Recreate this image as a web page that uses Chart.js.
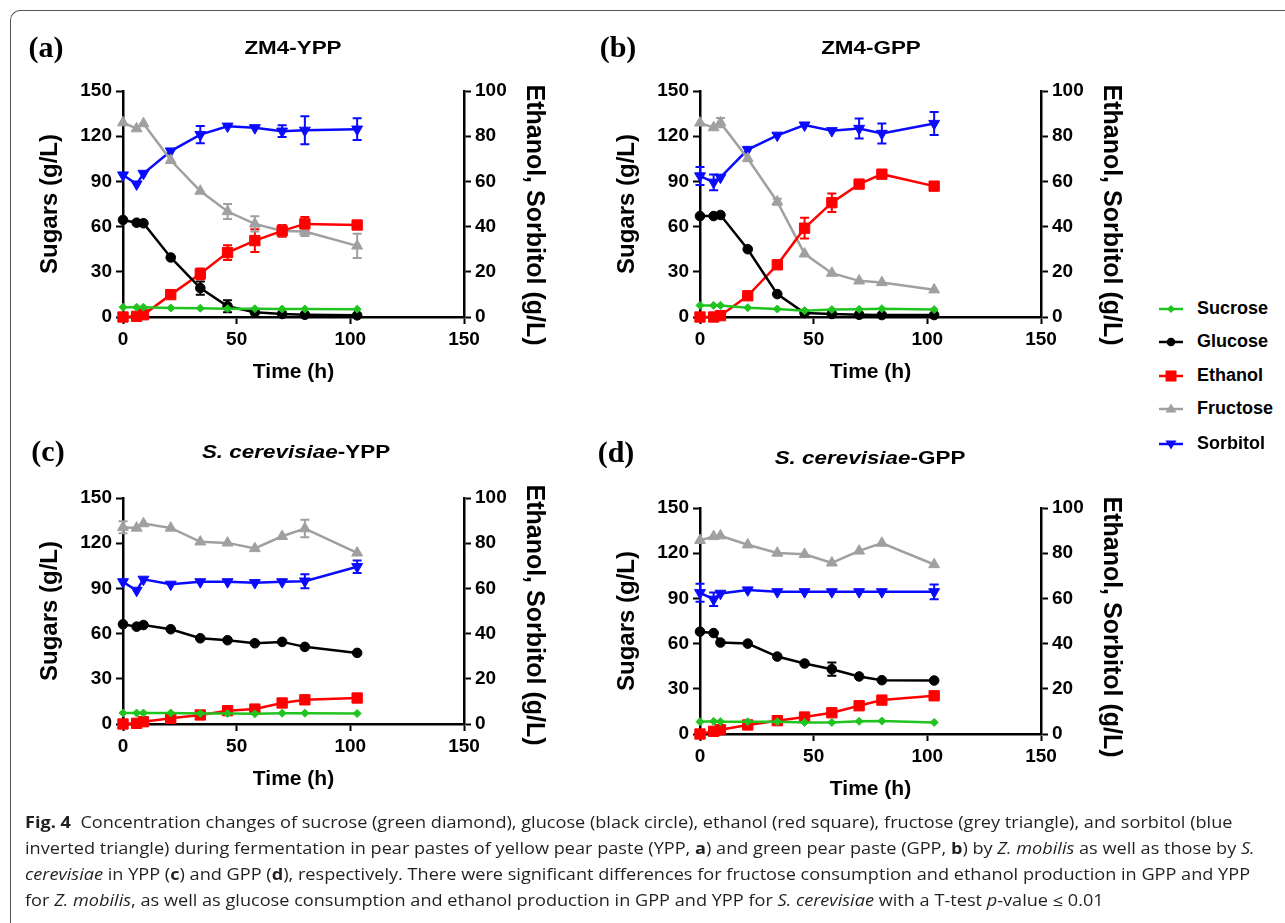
<!DOCTYPE html>
<html><head><meta charset="utf-8">
<script src="https://cdn.jsdelivr.net/npm/chart.js@4.4.0/dist/chart.umd.min.js"></script>
<style>
html,body{margin:0;padding:0;background:#fff;width:1285px;height:923px;overflow:hidden;position:relative;font-family:"Liberation Sans",Arial,sans-serif;color:#000;}
.frame{position:absolute;left:10px;top:10px;width:1320px;height:960px;border-top:1px solid #555;border-left:1px solid #555;border-top-left-radius:10px;box-sizing:border-box;}
canvas{position:absolute;}
.c{position:absolute;white-space:nowrap;transform:translate(-50%,-50%);}
.plabel{font-family:"Liberation Serif","Times New Roman",serif;font-weight:bold;font-size:30px;}
.ptitle{font-weight:bold;font-size:19px;transform:translate(-50%,-50%) scaleX(1.18);}
.rt{font-weight:bold;font-size:25px;line-height:30px;transform:translate(-50%,-50%) rotate(90deg);}
.leg{position:absolute;left:1157px;font-weight:bold;font-size:18px;white-space:nowrap;}
.leg svg{position:absolute;left:0;top:-8px;}
.leg span{position:absolute;left:40px;top:-11px;}
.caption{position:absolute;left:25px;top:809px;font-family:"Open Sans",sans-serif;font-size:15.5px;line-height:26px;white-space:nowrap;color:#231f20;transform:scaleX(1.17);transform-origin:0 0;}
</style>
</head><body>
<div class="frame"></div>

<canvas id="ca" width="560" height="400" style="left:0px;top:0px"></canvas>
<canvas id="cb" width="560" height="400" style="left:577px;top:0px"></canvas>
<canvas id="cc" width="560" height="400" style="left:0px;top:407px"></canvas>
<canvas id="cd" width="560" height="400" style="left:577px;top:417px"></canvas>

<div class="c plabel" style="left:46px;top:47px">(a)</div>
<div class="c plabel" style="left:618px;top:47px">(b)</div>
<div class="c plabel" style="left:48px;top:451px">(c)</div>
<div class="c plabel" style="left:616px;top:452px">(d)</div>

<div class="c ptitle" style="left:293px;top:48px">ZM4-YPP</div>
<div class="c ptitle" style="left:871px;top:48px">ZM4-GPP</div>
<div class="c ptitle" style="left:296px;top:452px"><i>S. cerevisiae</i>-YPP</div>
<div class="c ptitle" style="left:870px;top:458px"><i>S. cerevisiae</i>-GPP</div>

<div class="c rt" style="left:536px;top:215px">Ethanol, Sorbitol (g/L)</div>
<div class="c rt" style="left:1113px;top:215px">Ethanol, Sorbitol (g/L)</div>
<div class="c rt" style="left:536px;top:615px">Ethanol, Sorbitol (g/L)</div>
<div class="c rt" style="left:1113px;top:627px">Ethanol, Sorbitol (g/L)</div>

<div id="legend"></div>

<div class="caption">
<b>Fig. 4</b>&nbsp; Concentration changes of sucrose (green diamond), glucose (black circle), ethanol (red square), fructose (grey triangle), and sorbitol (blue<br>
inverted triangle) during fermentation in pear pastes of yellow pear paste (YPP, <b>a</b>) and green pear paste (GPP, <b>b</b>) by <i>Z. mobilis</i> as well as those by <i>S.</i><br>
<i>cerevisiae</i> in YPP (<b>c</b>) and GPP (<b>d</b>), respectively. There were significant differences for fructose consumption and ethanol production in GPP and YPP<br>
for <i>Z. mobilis</i>, as well as glucose consumption and ethanol production in GPP and YPP for <i>S. cerevisiae</i> with a T-test <i>p</i>-value &le; 0.01
</div>

<script>
// ---------- data ----------
const timeH = [0, 6, 9, 21, 34, 46, 58, 70, 80, 103];
const xTicks = [0, 50, 100, 150];
const sugarTicks = [0, 30, 60, 90, 120, 150];
const ethTicks = [0, 20, 40, 60, 80, 100];
const seriesNames = ['Sucrose', 'Glucose', 'Ethanol', 'Fructose', 'Sorbitol'];

// Panel (a) ZM4-YPP
const sucA = [6.5, 6.5, 6.5, 6.0, 5.8, 5.5, 5.5, 5.3, 5.3, 5.2];
const gluA = [64.4, 62.6, 62.2, 39.5, 19.2, 7.1, 3.1, 2.0, 1.5, 1.1];
const gluAErr = [0, 0, 0, 0, 4.4, 4.0, 0, 0, 0, 0];
const ethA = [0, 0.3, 1.0, 9.9, 19.1, 28.5, 33.8, 38.1, 41.2, 40.7];
const ethAErr = [0, 0, 0, 0, 2.4, 3.3, 5.0, 2.6, 3.0, 1.5];
const fruA = [129, 125, 128.4, 104, 83.6, 70, 61.8, 57.1, 56.7, 47.2];
const fruAErr = [0, 0, 0, 0, 0, 5, 5, 3, 3, 8];
const sorA = [62.8, 58.8, 63.5, 73.4, 80.7, 84.4, 83.7, 82.2, 82.6, 83.1];
const sorAErr = [0, 0, 0, 0, 3.8, 0, 0, 2.6, 6.2, 4.8];

// Panel (b) ZM4-GPP
const sucB = [7.7, 7.7, 7.7, 6.2, 5.3, 4.2, 4.9, 5.1, 5.5, 4.9];
const gluB = [67, 67, 67.7, 45, 15.2, 2.6, 2.0, 1.5, 1.3, 1.3];
const ethB = [0, 0, 0.6, 9.4, 23.1, 39.3, 50.6, 58.8, 63.2, 57.9];
const ethBErr = [0, 0, 0, 0, 0, 4.6, 4.1, 0, 0, 0];
const fruB = [128.8, 125.7, 129, 105.2, 76.5, 41.9, 29.1, 24, 22.9, 18.1];
const fruBErr = [0, 0, 3, 0, 2, 0, 0, 0, 0, 0];
const sorB = [62.4, 59.6, 61.8, 74.1, 80.4, 84.9, 82.4, 83.4, 81.2, 85.6];
const sorBErr = [4, 3.5, 0, 0, 0, 0, 0, 4.4, 4.4, 5.1];

// Panel (c) S. cerevisiae-YPP
const sucC = [7.3, 7.3, 7.3, 7.3, 7.0, 7.0, 6.8, 7.2, 7.2, 7.0];
const gluC = [66.2, 64.6, 65.7, 62.9, 56.9, 55.6, 53.6, 54.5, 51.2, 47.2];
const ethC = [0, 0.3, 1.0, 2.5, 4.0, 5.9, 6.6, 9.3, 10.7, 11.5];
const ethCErr = [0, 0, 0, 0, 0, 0, 0, 0, 1.8, 0];
const fruC = [130.6, 130.1, 133, 130.1, 120.9, 120.2, 116.5, 124.6, 129.7, 113.6];
const fruCErr = [4, 0, 0, 0, 0, 0, 0, 0, 5.8, 0];
const sorC = [62.9, 59.1, 64, 61.8, 62.9, 62.9, 62.5, 62.9, 63.2, 69.6];
const sorCErr = [0, 0, 0, 0, 0, 0, 0, 0, 3.1, 2.8];

// Panel (d) S. cerevisiae-GPP
const sucD = [8.2, 8.4, 8.2, 8.2, 8.2, 7.7, 7.7, 8.4, 8.6, 7.7];
const gluD = [67.9, 67, 60.7, 60, 51.4, 46.8, 43, 38.2, 35.7, 35.5];
const gluDErr = [0, 0, 0, 0, 0, 0, 4.4, 0, 0, 0];
const ethD = [0, 1.2, 1.9, 4.0, 5.9, 7.5, 9.4, 12.5, 15, 16.9];
const fruD = [128.5, 131.1, 131.6, 125.6, 120.1, 119.3, 113.6, 121.5, 126.7, 112.5];
const sorD = [62.5, 59.6, 62.2, 63.7, 62.9, 62.9, 62.9, 62.9, 62.9, 62.9];
const sorDErr = [4, 3, 0, 0, 0, 0, 0, 0, 0, 3.3];

// ---------- styles ----------
const FONT = '"Liberation Sans", Arial, sans-serif';
const COLORS = ['#1fc41f', '#000000', '#ff0000', '#a0a0a0', '#0a0aff'];
const STYLES = [
  {pointStyle: 'rectRot', radius: 4, rotation: 0},
  {pointStyle: 'circle', radius: 4.8, rotation: 0},
  {pointStyle: 'rect', radius: 7.3, rotation: 0},
  {pointStyle: 'triangle', radius: 6.3, rotation: 0},
  {pointStyle: 'triangle', radius: 6.3, rotation: 180}
];
const AXES = ['y', 'y', 'y1', 'y', 'y1'];

const errPlugin = {
  id: 'errbars',
  beforeDatasetsDraw(chart) {
    const ctx = chart.ctx;
    chart.data.datasets.forEach((ds, i) => {
      if (!ds.errors) return;
      const meta = chart.getDatasetMeta(i);
      const ys = chart.scales[ds.yAxisID];
      ctx.save();
      ctx.strokeStyle = ds.borderColor;
      ctx.lineWidth = 2;
      meta.data.forEach((pt, j) => {
        const e = ds.errors[j];
        if (!e) return;
        const v = ds.data[j].y;
        const yT = ys.getPixelForValue(v + e), yB = ys.getPixelForValue(v - e);
        ctx.beginPath();
        ctx.moveTo(pt.x, yT); ctx.lineTo(pt.x, yB);
        ctx.moveTo(pt.x - 4.5, yT); ctx.lineTo(pt.x + 4.5, yT);
        ctx.moveTo(pt.x - 4.5, yB); ctx.lineTo(pt.x + 4.5, yB);
        ctx.stroke();
      });
      ctx.restore();
    });
  }
};

function makeDs(k, vals, errs) {
  const st = STYLES[k];
  return {
    label: seriesNames[k],
    data: timeH.map((t, i) => ({x: t, y: vals[i]})),
    errors: errs || null,
    yAxisID: AXES[k],
    borderColor: COLORS[k],
    backgroundColor: COLORS[k],
    borderWidth: 2.5,
    pointStyle: st.pointStyle,
    pointRadius: st.radius,
    pointRotation: st.rotation,
    pointBackgroundColor: COLORS[k],
    pointBorderColor: COLORS[k],
    pointBorderWidth: 1,
    tension: 0,
    clip: false
  };
}

function axisCommon() {
  return {
    grid: {drawOnChartArea: false, drawTicks: true, tickLength: 7, tickWidth: 2, tickColor: '#000', color: '#000'},
    border: {display: true, color: '#000', width: 2.5},
    ticks: {color: '#000', font: {family: FONT, size: 19, weight: 'bold'}, padding: 4, maxRotation: 0, autoSkip: false}
  };
}

function makeChart(id, series) {
  const x = axisCommon();
  Object.assign(x, {
    type: 'linear', min: 0, max: 150,
    afterBuildTicks: s => { s.ticks = xTicks.map(v => ({value: v})); },
    title: {display: true, text: 'Time (h)', color: '#000', font: {family: FONT, size: 21, weight: 'bold'}, padding: {top: 0, bottom: 15}},
    afterFit: s => { s.height = 83; }
  });
  const y = axisCommon();
  Object.assign(y, {
    type: 'linear', position: 'left', min: 0, max: 150,
    afterBuildTicks: s => { s.ticks = sugarTicks.map(v => ({value: v})); },
    title: {display: true, text: 'Sugars (g/L)', color: '#000', font: {family: FONT, size: 24, weight: 'bold'}, padding: {top: 36, bottom: 0}},
    afterFit: s => { s.width = 123; }
  });
  const y1 = axisCommon();
  Object.assign(y1, {
    type: 'linear', position: 'right', min: 0, max: 100,
    afterBuildTicks: s => { s.ticks = ethTicks.map(v => ({value: v})); },
    title: {display: false},
    afterFit: s => { s.width = 96; }
  });
  return new Chart(document.getElementById(id), {
    type: 'line',
    data: {datasets: series.map(([k, v, e]) => makeDs(k, v, e))},
    options: {
      responsive: false, animation: false, devicePixelRatio: 1,
      layout: {padding: {top: 91, left: 0, right: 0, bottom: 0}},
      plugins: {legend: {display: false}, tooltip: {enabled: false}},
      scales: {x, y, y1}
    },
    plugins: [errPlugin]
  });
}

makeChart('ca', [[0, sucA], [1, gluA, gluAErr], [2, ethA, ethAErr], [3, fruA, fruAErr], [4, sorA, sorAErr]]);
makeChart('cb', [[0, sucB], [1, gluB], [2, ethB, ethBErr], [3, fruB, fruBErr], [4, sorB, sorBErr]]);
makeChart('cc', [[0, sucC], [1, gluC], [2, ethC, ethCErr], [3, fruC, fruCErr], [4, sorC, sorCErr]]);
makeChart('cd', [[0, sucD], [1, gluD, gluDErr], [2, ethD], [3, fruD], [4, sorD, sorDErr]]);

// ---------- legend ----------
const legendY = [309, 342, 376, 409, 444];
const markerSvg = [
  c => `<polygon points="14,4 18,8 14,12 10,8" fill="${c}"/>`,
  c => `<circle cx="14" cy="8" r="4.3" fill="${c}"/>`,
  c => `<rect x="8.5" y="2.5" width="11" height="11" fill="${c}"/>`,
  c => `<polygon points="14,2.5 19.5,11.5 8.5,11.5" fill="${c}"/>`,
  c => `<polygon points="14,13.5 19.5,4.5 8.5,4.5" fill="${c}"/>`
];
const leg = document.getElementById('legend');
seriesNames.forEach((name, k) => {
  const d = document.createElement('div');
  d.className = 'leg';
  d.style.top = legendY[k] + 'px';
  d.innerHTML = `<svg width="28" height="16"><line x1="2" y1="8" x2="26" y2="8" stroke="${COLORS[k]}" stroke-width="2.5"/>${markerSvg[k](COLORS[k])}</svg><span>${name}</span>`;
  leg.appendChild(d);
});
</script>
</body></html>
